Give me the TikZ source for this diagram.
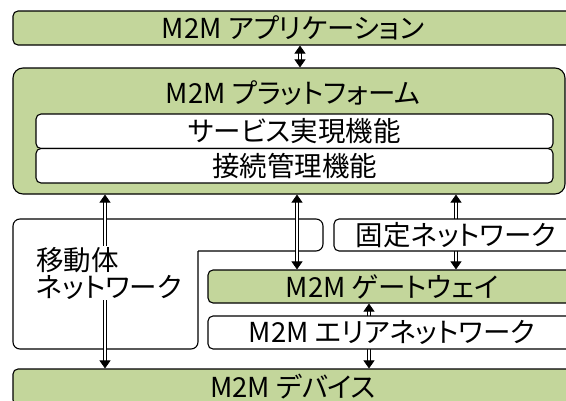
\documentclass[tikz,border=0pt]{standalone}
\usepackage{fontspec}
\setmainfont{Noto Sans CJK JP}[RawFeature=+palt]
\definecolor{layergreen}{HTML}{C3D69B}
\usetikzlibrary{arrows.meta}
\tikzset{
	box/.style={draw, line width=1.1pt, rounded corners=5pt, fill=white, inner sep=0pt, font=\fontsize{27.5}{27.5}\selectfont},
	greenbox/.style={box, fill=layergreen},
	dblarrow/.style={double, double distance=2.4pt, line width=0.8pt, <->, >={Triangle[length=8pt,width=11pt]}}
}
\begin{document}
\begin{tikzpicture}[x=1pt, y=-1pt]
	\useasboundingbox (0,0) rectangle (566,400);
	\clip (0,0) rectangle (566,400);
	
	% upper layers
	\node[greenbox, minimum width=560pt, minimum height=34pt] (app) at (293,28) {M2M アプリケーション};
	\node[greenbox, rounded corners=10pt, minimum width=552pt, minimum height=126pt] (platform) at (289,131) {};
	\node[font=\fontsize{27.5}{27.5}\selectfont] (ptitle) at (293,93) {M2M プラットフォーム};
	\node[box, minimum width=517pt, minimum height=34.5pt] (service) at (294.5,131.25) {サービス実現機能};
	\node[box, minimum width=517pt, minimum height=34.5pt] (conn) at (294.5,165.75) {接続管理機能};
	
	% mobile network, L-shaped
	\draw[line width=1.1pt, fill=white, rounded corners=7pt] (198,251) -- (323,251) -- (323,219) -- (13,219) -- (13,349) -- (198,349) -- (198,251);
	
	\node[greenbox, minimum width=368pt, minimum height=33pt] (gateway) at (392,286.5) {M2M ゲートウェイ};
	\node[greenbox, minimum width=560pt, minimum height=36pt] (device) at (293,387) {M2M デバイス};
	
	\foreach \from/\to/\xpos in {app/platform/300, platform/device/105, platform/gateway/297, platform/gateway/456, gateway/device/369}
	{
		\draw[dblarrow] (\from.south -| \xpos,0) -- (\to.north -| \xpos,0);
	}
	
	\node[box, minimum width=244pt, minimum height=32pt] (fixed) at (456,235) {固定ネットワーク};
	\node[box, minimum width=368pt, minimum height=33pt] (area) at (392,332.5) {M2M エリアネットワーク};
	\node[fill=white, align=left, inner sep=1pt, anchor=west, font=\fontsize{27.5}{35}\selectfont] (mobile) at (35,273) {移動体\\[-8pt]ネットワーク};
\end{tikzpicture}
\end{document}
